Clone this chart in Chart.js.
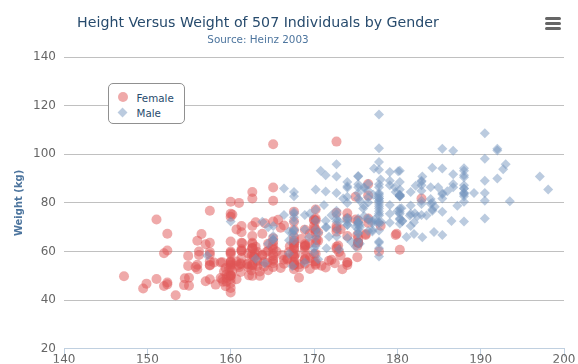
<!DOCTYPE html>
<html>
<head>
<meta charset="utf-8">
<script src="https://cdn.jsdelivr.net/npm/chart.js@4.4.1/dist/chart.umd.min.js"></script>
<style>
  html, body { margin: 0; padding: 0; background: #fff; }
  #wrap { position: relative; width: 578px; height: 364px; overflow: hidden; font-family: 'DejaVu Sans', sans-serif; }
  #c { position: absolute; left: 0; top: 0; }
  .title { position: absolute; left: 0; width: 516px; text-align: center; white-space: nowrap; line-height: 1; }
  #t1 { top: 14.5px; font-size: 14.2px; color: #274b6d; }
  #t2 { top: 33.5px; font-size: 10.4px; color: #4d759e; }
  #legend { position: absolute; left: 108px; top: 83px; width: 75px; height: 39px; border: 1px solid #909090; border-radius: 5px; background: #fff; }
  .lg-item { position: absolute; left: 0; width: 75px; height: 16px; }
  .lg-mark { position: absolute; }
  .lg-text { position: absolute; left: 27.5px; font-size: 10.3px; line-height: 1; color: #274b6d; white-space: nowrap; }
  .bar { position: absolute; left: 545px; width: 16px; height: 3px; background: #666; border-radius: 1.5px; }
</style>
</head>
<body>
<div id="wrap">
  <canvas id="c" width="578" height="364"></canvas>
  <div class="title" id="t1"></div>
  <div class="title" id="t2"></div>
  <div id="legend"></div>
  <div class="bar" style="top:17px"></div>
  <div class="bar" style="top:22px"></div>
  <div class="bar" style="top:27px"></div>
</div>
<script>
const chartTitle = 'Height Versus Weight of 507 Individuals by Gender';
const chartSubtitle = 'Source: Heinz 2003';
const seriesNames = ['Female', 'Male'];
const yAxisTitle = 'Weight (kg)';
const xTicks = [140, 150, 160, 170, 180, 190, 200];
const yTicks = [20, 40, 60, 80, 100, 120, 140];

const femaleData = [
[161.2, 51.6], [167.5, 59.0], [159.5, 49.2], [157.0, 63.0], [155.8, 53.6],
[170.0, 59.0], [159.1, 47.6], [166.0, 69.8], [176.2, 66.8], [160.2, 75.2],
[172.5, 55.2], [170.9, 54.2], [172.9, 62.5], [153.4, 42.0], [160.0, 50.0],
[147.2, 49.8], [168.2, 49.2], [175.0, 73.2], [157.0, 47.8], [167.6, 68.8],
[159.5, 50.6], [175.0, 82.5], [166.8, 57.2], [176.5, 87.8], [170.2, 72.8],
[174.0, 54.5], [173.0, 59.8], [179.9, 67.3], [170.5, 67.8], [160.0, 47.0],
[154.4, 46.2], [162.0, 55.0], [176.5, 83.0], [160.0, 54.4], [152.0, 45.8],
[162.1, 53.6], [170.0, 73.2], [160.2, 52.1], [161.3, 67.9], [166.4, 56.6],
[168.9, 62.3], [163.8, 58.5], [167.6, 54.5], [160.0, 50.2], [161.3, 60.3],
[167.6, 58.3], [165.1, 56.2], [160.0, 50.2], [170.0, 72.9], [157.5, 59.8],
[167.6, 61.0], [160.7, 69.1], [163.2, 55.9], [152.4, 46.5], [157.5, 54.3],
[168.3, 54.8], [180.3, 60.7], [165.5, 60.0], [165.0, 62.0], [164.5, 60.3],
[156.0, 52.7], [160.0, 74.3], [163.0, 62.0], [165.7, 73.1], [161.0, 80.0],
[162.0, 54.7], [166.0, 53.2], [174.0, 75.7], [172.7, 61.1], [167.6, 55.7],
[151.1, 48.7], [164.5, 52.3], [163.5, 50.0], [152.0, 59.3], [169.0, 62.5],
[164.0, 55.7], [161.2, 54.8], [155.0, 45.9], [170.0, 70.6], [176.2, 67.2],
[170.0, 69.4], [162.5, 58.2], [170.3, 64.8], [164.1, 71.6], [169.5, 52.8],
[163.2, 59.8], [154.5, 49.0], [159.8, 50.0], [173.2, 69.2], [170.0, 55.9],
[161.4, 63.4], [169.0, 58.2], [166.2, 58.6], [159.4, 45.7], [162.5, 52.2],
[159.0, 48.6], [162.8, 57.8], [159.0, 55.6], [179.8, 66.8], [162.9, 59.4],
[161.0, 53.6], [151.1, 73.2], [168.2, 53.4], [168.9, 69.0], [173.2, 58.4],
[171.8, 56.2], [178.0, 70.6], [164.3, 59.8], [163.0, 72.0], [168.5, 65.2],
[166.8, 56.6], [172.7, 105.2], [163.5, 51.8], [169.4, 63.4], [167.8, 59.0],
[159.5, 47.6], [167.6, 63.0], [161.2, 55.2], [160.0, 45.0], [163.2, 54.0],
[162.2, 50.2], [161.3, 60.2], [149.5, 44.8], [157.5, 58.8], [163.2, 56.4],
[172.7, 62.0], [155.0, 49.2], [156.5, 67.2], [164.0, 53.8], [160.9, 54.4],
[162.8, 58.0], [167.0, 59.8], [160.0, 54.8], [160.0, 43.2], [168.9, 60.5],
[158.2, 46.4], [156.0, 64.4], [160.0, 48.8], [167.1, 62.2], [158.0, 55.5],
[167.6, 57.8], [156.0, 54.6], [162.1, 59.2], [173.4, 52.7], [159.8, 53.2],
[170.5, 64.5], [159.2, 51.8], [157.5, 56.0], [161.3, 63.6], [162.6, 63.2],
[160.0, 59.5], [168.9, 56.8], [165.1, 64.1], [162.6, 50.0], [165.1, 72.3],
[166.4, 55.0], [160.0, 55.9], [152.4, 60.4], [170.2, 69.1], [162.6, 84.5],
[170.2, 55.9], [158.8, 55.5], [172.7, 69.5], [167.6, 76.4], [162.6, 61.4],
[167.6, 65.9], [156.2, 58.6], [175.2, 66.8], [172.1, 56.6], [162.6, 58.6],
[160.0, 55.9], [165.1, 59.1], [182.9, 81.8], [166.4, 70.7], [165.1, 56.8],
[177.8, 60.0], [165.1, 58.2], [175.3, 72.7], [154.9, 54.1], [158.8, 49.1],
[172.7, 75.9], [168.9, 55.0], [161.3, 57.3], [167.6, 55.0], [165.1, 65.5],
[175.3, 65.5], [157.5, 48.6], [163.8, 58.6], [167.6, 63.6], [165.1, 55.2],
[165.1, 62.7], [168.9, 56.6], [162.6, 53.9], [164.5, 63.2], [176.5, 73.6],
[168.9, 62.0], [175.3, 63.6], [159.4, 53.2], [160.0, 53.4], [170.2, 55.0],
[162.6, 70.5], [167.6, 54.5], [162.6, 54.5], [160.7, 55.9], [160.0, 59.0],
[157.5, 63.6], [162.6, 54.5], [152.4, 47.3], [170.2, 67.7], [165.1, 80.9],
[172.7, 70.5], [165.1, 60.9], [170.2, 63.6], [170.2, 54.5], [170.2, 59.1],
[161.3, 70.5], [167.6, 52.7], [167.6, 62.7], [165.1, 86.3], [162.6, 66.4],
[152.4, 67.3], [168.9, 63.0], [170.2, 73.6], [175.2, 62.3], [175.2, 57.7],
[160.0, 55.4], [165.1, 104.1], [174.0, 55.5], [170.2, 77.3], [160.0, 80.5],
[167.6, 64.5], [167.6, 72.3], [167.6, 61.4], [154.9, 58.2], [162.6, 81.8],
[175.3, 63.6], [171.4, 53.4], [157.5, 54.5], [165.1, 53.6], [160.0, 60.0],
[174.0, 73.6], [162.6, 61.4], [174.0, 55.5], [162.6, 63.6], [161.3, 60.9],
[156.2, 60.0], [149.9, 46.8], [169.5, 57.3], [160.0, 64.1], [175.3, 63.6],
[169.5, 67.3], [160.0, 75.5], [172.7, 68.2], [162.6, 61.4], [157.5, 76.8],
[176.5, 71.8], [164.4, 55.5], [160.7, 48.6], [174.0, 66.4], [163.8, 67.3]
];

const maleData = [
[174.0, 65.6], [175.3, 71.8], [193.5, 80.7], [186.5, 72.6], [187.2, 78.8],
[181.5, 74.8], [184.0, 86.4], [184.5, 78.4], [175.0, 62.0], [184.0, 81.6],
[180.0, 76.6], [177.8, 83.6], [192.0, 90.0], [176.0, 74.6], [174.0, 71.0],
[184.0, 79.6], [192.7, 93.8], [171.5, 70.0], [173.0, 72.4], [176.0, 85.9],
[176.0, 78.8], [180.5, 77.8], [172.7, 66.2], [176.0, 86.4], [173.5, 81.8],
[178.0, 89.6], [180.3, 82.8], [180.3, 76.4], [164.5, 63.2], [173.0, 60.9],
[183.5, 74.8], [175.5, 70.0], [188.0, 72.4], [189.2, 84.1], [172.8, 69.1],
[170.0, 59.5], [182.0, 67.2], [170.0, 61.3], [177.8, 68.6], [184.2, 80.1],
[186.7, 87.8], [171.4, 84.7], [172.7, 73.4], [175.3, 72.1], [180.3, 82.6],
[182.9, 88.7], [188.0, 84.1], [177.2, 94.1], [172.1, 74.9], [167.0, 59.1],
[169.5, 75.6], [174.0, 86.2], [172.7, 75.3], [182.2, 87.1], [164.1, 55.2],
[163.0, 57.0], [171.5, 61.4], [184.2, 76.8], [174.0, 86.8], [174.0, 72.2],
[177.0, 71.6], [186.0, 84.8], [167.0, 68.2], [171.8, 66.1], [182.0, 72.0],
[167.0, 64.6], [177.8, 74.8], [164.5, 70.0], [192.0, 101.6], [175.5, 63.2],
[171.2, 79.1], [181.6, 78.9], [167.4, 67.7], [181.1, 66.0], [177.0, 68.2],
[174.5, 63.9], [177.5, 72.0], [170.5, 56.8], [182.4, 74.5], [197.1, 90.9],
[180.1, 93.0], [175.5, 80.9], [180.6, 72.7], [184.4, 68.0], [175.5, 70.9],
[180.6, 72.5], [177.0, 72.5], [177.1, 83.4], [181.6, 75.5], [176.5, 73.0],
[175.0, 70.2], [174.0, 73.4], [165.1, 70.5], [177.0, 68.9], [192.0, 102.3],
[176.5, 68.4], [169.4, 65.9], [182.1, 75.7], [179.8, 84.5], [175.3, 87.7],
[184.9, 86.4], [177.3, 73.2], [167.4, 53.9], [178.1, 72.0], [168.9, 55.5],
[157.2, 58.4], [180.3, 83.2], [170.2, 72.7], [177.8, 64.1], [172.7, 72.3],
[165.1, 65.0], [186.7, 86.4], [165.1, 65.0], [174.0, 88.6], [175.3, 84.1],
[185.4, 66.8], [177.8, 75.5], [180.3, 93.2], [180.3, 82.7], [177.8, 58.0],
[177.8, 79.5], [177.8, 78.6], [177.8, 71.8], [177.8, 116.4], [163.8, 72.2],
[188.0, 83.6], [198.1, 85.5], [175.3, 90.9], [166.4, 85.9], [190.5, 89.1],
[166.4, 75.0], [177.8, 77.7], [179.7, 86.4], [172.7, 90.9], [190.5, 73.6],
[185.4, 76.4], [168.9, 69.1], [167.6, 84.5], [175.3, 64.5], [170.2, 69.1],
[190.5, 108.6], [177.8, 86.4], [190.5, 80.9], [177.8, 87.7], [184.2, 94.5],
[176.5, 80.2], [177.8, 72.0], [180.3, 71.4], [171.4, 72.7], [172.7, 84.1],
[172.7, 76.8], [177.8, 63.6], [177.8, 80.9], [182.9, 80.9], [170.2, 85.5],
[167.6, 68.6], [175.3, 67.7], [165.1, 66.4], [185.4, 102.3], [181.6, 70.5],
[172.7, 95.9], [190.5, 84.1], [179.1, 87.3], [175.3, 71.8], [170.2, 65.9],
[193.0, 95.9], [171.4, 91.4], [177.8, 81.8], [177.8, 96.8], [167.6, 69.1],
[167.6, 82.7], [180.3, 75.5], [182.9, 79.5], [176.5, 73.6], [186.7, 91.8],
[188.0, 84.1], [188.0, 85.9], [177.8, 81.8], [174.0, 82.5], [177.8, 80.5],
[171.4, 70.0], [185.4, 81.8], [185.4, 84.1], [188.0, 90.5], [188.0, 91.4],
[182.9, 89.1], [176.5, 85.0], [175.3, 69.1], [175.3, 73.6], [188.0, 80.5],
[188.0, 82.7], [175.3, 86.4], [170.5, 67.7], [179.1, 92.7], [177.8, 93.6],
[175.3, 70.9], [182.9, 75.0], [170.8, 93.2], [188.0, 93.2], [180.3, 77.7],
[177.8, 61.4], [185.4, 94.1], [168.9, 75.0], [185.4, 83.6], [180.3, 85.5],
[174.0, 73.9], [167.6, 66.8], [182.9, 87.3], [160.0, 72.3], [180.3, 88.6],
[167.6, 75.5], [186.7, 101.4], [175.3, 91.1], [175.3, 67.3], [175.9, 77.7],
[175.3, 81.8], [179.1, 75.5], [181.6, 84.5], [177.8, 76.6], [182.9, 85.0],
[177.8, 102.5], [184.2, 77.3], [179.1, 71.8], [176.5, 87.9], [188.0, 94.3],
[174.0, 70.9], [167.6, 64.5], [170.2, 77.3], [167.6, 72.3], [188.0, 87.3],
[174.0, 80.0], [176.5, 82.3], [180.3, 73.6], [167.6, 74.1], [188.0, 85.9],
[180.3, 73.2], [167.6, 76.3], [183.0, 65.9], [183.0, 90.9], [179.1, 89.1],
[170.2, 62.3], [177.8, 82.7], [179.1, 79.1], [190.5, 98.2], [177.8, 84.1],
[180.3, 83.2], [180.3, 83.2]
];

const seriesColors = ['rgba(223, 83, 83, .5)', 'rgba(119, 152, 191, .5)'];
const seriesStyles = ['circle', 'rectRot'];

document.getElementById('t1').textContent = chartTitle;
document.getElementById('t2').textContent = chartSubtitle;

Chart.defaults.font.family = "'DejaVu Sans', sans-serif";

const datasets = [femaleData, maleData].map((d, i) => ({
  label: seriesNames[i],
  data: d,
  backgroundColor: seriesColors[i],
  borderWidth: 0,
  pointStyle: seriesStyles[i],
  pointRadius: 5,
  pointHoverRadius: 5,
  order: i === 0 ? 1 : 0
}));

const chart = new Chart(document.getElementById('c'), {
  type: 'scatter',
  data: { datasets },
  options: {
    responsive: false,
    animation: false,
    devicePixelRatio: 1,
    layout: { padding: { top: 57, left: 0, right: 14, bottom: 0 } },
    plugins: { legend: { display: false }, title: { display: false }, tooltip: { enabled: false } },
    events: [],
    scales: {
      x: {
        type: 'linear', position: 'bottom',
        min: xTicks[0], max: xTicks[xTicks.length - 1],
        afterBuildTicks: s => { s.ticks = xTicks.map(v => ({ value: v })); },
        ticks: { font: { size: 12 }, color: '#666', padding: -4, maxRotation: 0, autoSkip: false },
        grid: { display: true, drawOnChartArea: false, drawTicks: true, tickLength: 8, color: '#C0D0E0' },
        border: { display: true, color: '#C0D0E0', width: 1 },
        afterFit: s => { s.height = 14; }
      },
      y: {
        type: 'linear',
        min: yTicks[0], max: yTicks[yTicks.length - 1],
        afterBuildTicks: s => { s.ticks = yTicks.map(v => ({ value: v })); },
        ticks: { font: { size: 12 }, color: '#666', padding: 8 },
        grid: { color: c => (c.tick && c.tick.value === yTicks[0]) ? 'rgba(0,0,0,0)' : '#C0C0C0', drawTicks: false },
        border: { display: false },
        title: { display: true, text: yAxisTitle, color: '#4d759e', font: { size: 10, weight: 'bold' }, padding: { top: 13.5, bottom: 0 } },
        afterFit: s => { s.width = 64; }
      }
    }
  }
});

// HTML legend built from the chart's datasets
const legend = document.getElementById('legend');
const markTops = [8.5, 24];
const markX = 14;
chart.data.datasets.forEach((ds, i) => {
  const item = document.createElement('div');
  item.className = 'lg-item';
  item.style.top = '0px';
  const mark = document.createElement('div');
  mark.className = 'lg-mark';
  mark.style.background = ds.backgroundColor;
  if (ds.pointStyle === 'circle') {
    mark.style.width = '10px'; mark.style.height = '10px'; mark.style.borderRadius = '50%';
    mark.style.left = (markX - 5) + 'px'; mark.style.top = (markTops[i] + 4.5 - 5) + 'px';
  } else {
    const s = 7.07;
    mark.style.width = s + 'px'; mark.style.height = s + 'px';
    mark.style.transform = 'rotate(45deg)';
    mark.style.left = (markX - s / 2) + 'px'; mark.style.top = (markTops[i] + 4.5 - s / 2) + 'px';
  }
  const txt = document.createElement('div');
  txt.className = 'lg-text';
  txt.textContent = ds.label;
  txt.style.top = (i === 0 ? 8.6 : 23.6) + 'px';
  item.appendChild(mark);
  item.appendChild(txt);
  legend.appendChild(item);
});
</script>
</body>
</html>
